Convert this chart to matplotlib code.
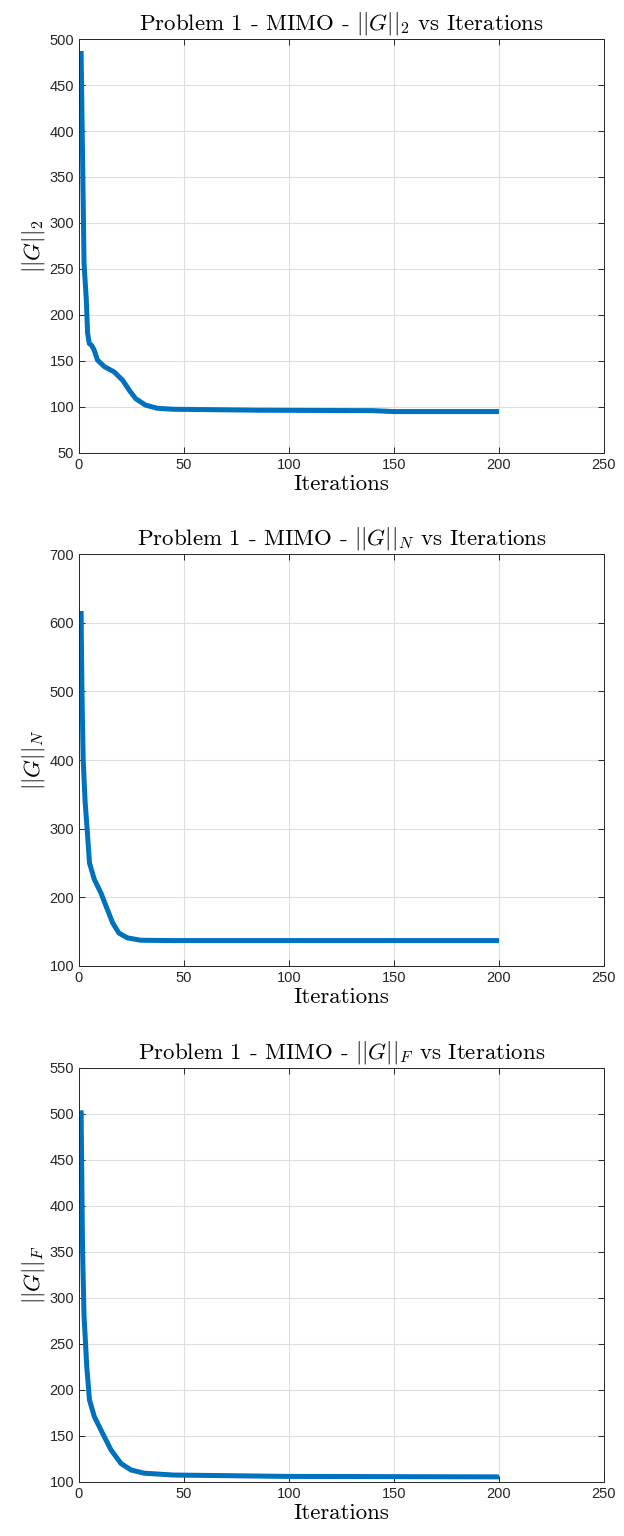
#!/usr/bin/env python3
"""
Convergence of the three norms over the iterations (MATLAB-style figure).
"""
import matplotlib
matplotlib.use("Agg")
import matplotlib.pyplot as plt

# values
iters_2 = [1, 2.4, 3.5, 4.1, 4.9, 6, 7.2, 8.8, 12, 16.8, 20.8, 24, 27, 31.7, 37.3, 45, 86, 140, 150, 200]
norm_2 = [487, 256, 216, 180, 169, 167, 162, 151, 144, 138, 129, 118, 109, 102, 98.6, 97.5, 96.5, 96, 95, 95]

iters_n = [1, 1.4, 2, 2.9, 3.9, 5, 7.3, 10.5, 12.9, 16, 19, 23, 29.4, 45, 100, 200]
norm_n = [617, 502, 400, 340, 298, 250, 226, 206, 187, 163, 148, 141, 137.5, 137, 137, 137]

iters_f = [1, 1.7, 2.4, 2.9, 3.7, 5, 7.3, 11.2, 15.2, 20, 24.8, 31, 45, 100, 200]
norm_f = [504, 352, 280, 260, 225, 189, 171, 153, 135, 120, 113, 109.5, 107.5, 106, 105.5]

titles = [r"Problem 1 - MIMO - $||G||_2$ vs Iterations",
          r"Problem 1 - MIMO - $||G||_N$ vs Iterations",
          r"Problem 1 - MIMO - $||G||_F$ vs Iterations"]
ylabels = [r"$||G||_2$", r"$||G||_N$", r"$||G||_F$"]
ylims = [(50, 500), (100, 700), (100, 550)]
ysteps = [50, 100, 50]

plt.rcParams["mathtext.fontset"] = "cm"
plt.rcParams["font.family"] = ["Liberation Sans", "DejaVu Sans"]

fig = plt.figure(figsize=(6.24, 15.36), dpi=100)
positions = [
    [0.1266, 0.7051, 0.8413, 0.2695],
    [0.1266, 0.3711, 0.8413, 0.2682],
    [0.1266, 0.0352, 0.8413, 0.2695],
]
data = [(iters_2, norm_2), (iters_n, norm_n), (iters_f, norm_f)]

for pos, (xs, ys), title, ylab, ylim, step in zip(positions, data, titles, ylabels, ylims, ysteps):
    ax = fig.add_axes(pos)
    ax.plot(xs, ys, color="#0072BD", lw=3.6, solid_capstyle="butt", solid_joinstyle="round")
    ax.set_xlim(0, 250)
    ax.set_ylim(*ylim)
    ax.set_xticks(range(0, 251, 50))
    ax.set_yticks(range(ylim[0], ylim[1] + 1, step))
    ax.grid(True, color="#dedede", lw=0.8)
    ax.set_axisbelow(True)
    ax.tick_params(direction="in", top=True, right=True, labelsize=10.5,
                   colors="#262626", length=4, width=0.7)
    for s in ax.spines.values():
        s.set_color("#262626")
        s.set_linewidth(0.7)
    ax.set_title(title, fontsize=16.5, family="cmr10", pad=7)
    ax.set_xlabel("Iterations", fontsize=16.5, family="cmr10", labelpad=2)
    ax.set_ylabel(ylab, fontsize=16.5, labelpad=2)

plt.savefig("out.png", dpi=100)
